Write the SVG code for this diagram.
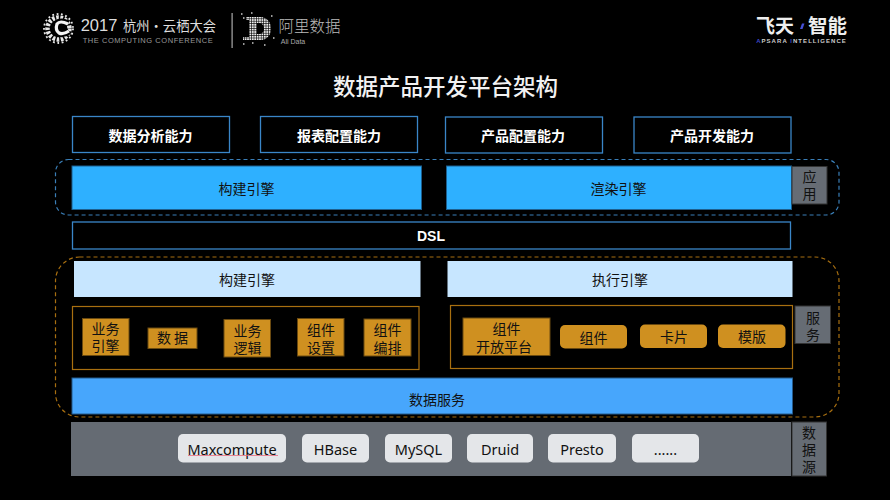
<svg xmlns="http://www.w3.org/2000/svg" width="890" height="500" viewBox="0 0 890 500">
<defs><pattern id="mesh" width="2.400" height="2.400" patternUnits="userSpaceOnUse"><rect width="1.800" height="1.800" fill="#eee"/></pattern></defs>
<style>
text{font-family:"Liberation Sans","Noto Sans CJK SC",sans-serif;text-anchor:middle}
.cap{fill:#000;stroke:#3a86c8;stroke-width:1.300}
.capt{font-size:14px;font-weight:700;fill:#fff}
.blue{fill:#2eb0ff;stroke:#1d5f8e;stroke-width:1}
.light{fill:#c7e6ff}
.t{font-family:"Noto Sans CJK SC","Liberation Sans",sans-serif;font-size:14px;fill:#111}
.or{fill:#cf9020;stroke:#6b4a10;stroke-width:1}
.oline{fill:none;stroke:#a86f10;stroke-width:1.200}
.side{fill:#666c74;stroke:#333;stroke-width:1}
.chip{fill:#e4e6e9}
.ch{font-family:"Noto Sans","Noto Sans CJK SC",sans-serif;font-size:14.500px;fill:#111}
.cn{font-family:"Noto Sans CJK SC",sans-serif}
</style>
<rect width="890" height="500" fill="#000"/>
<g id="logo-conference">
<circle cx="58.500" cy="28.500" r="11" fill="none" stroke="#e8e8e8" stroke-width="4.500" stroke-dasharray="2.600 1.500"/>
<circle cx="58.500" cy="28.500" r="14.500" fill="none" stroke="#e8e8e8" stroke-width="1.800" stroke-dasharray="1.800 2.600"/>
<path d="M68 24Q60 20 57 24Q55 30 59 33Q63 35 69 31" fill="none" stroke="#000" stroke-width="7"/>
<path d="M68 24Q60 20 57 24Q55 30 59 33Q63 35 69 31" fill="none" stroke="#f4f4f4" stroke-width="3.200"/>
<text x="99" y="31" style="font-size:16.500px;fill:#ddd;font-family:'Liberation Sans'">2017</text>
<text x="169.500" y="30.500" class="cn" style="font-size:13.300px;fill:#ddd">杭州·云栖大会</text>
<text x="148" y="43" style="font-size:7.500px;fill:#999;letter-spacing:.55px">THE COMPUTING CONFERENCE</text>
<rect x="231.500" y="13" width="1.200" height="35" fill="#aaa"/>
</g>
<g id="logo-ali">
<path fill-rule="evenodd" fill="url(#mesh)" d="M246 17H262Q271 19 271 29Q271 38 262 40H243V37H249V20H246ZM257 23V34H260Q264 33 264 29Q264 24 260 23Z"/>
<path d="M241 14h1.500M251 13h1.500M271 16h1.500M243 44h1.500M252 43h1.500M264 45h1.500M273 38h1.500M243 18h1.500" stroke="#ccc" stroke-width="1.300" fill="none"/>
<text x="309.500" y="32" class="cn" style="font-size:15.500px;fill:#bbb;font-weight:300">阿里数据</text>
<text x="293" y="44" style="font-size:7px;fill:#aaa">Ali Data</text>
</g>
<g id="logo-apsara">
<text x="775" y="33" class="cn" style="font-size:19px;fill:#eee;font-weight:700">飞天</text>
<path d="M802 23.500L804.500 23.500L802.500 29L800 29Z" fill="#4450d8"/>
<text x="827.500" y="33" class="cn" style="font-size:19.500px;fill:#eee;font-weight:700">智能</text>
<text x="801.500" y="43" style="font-size:6px;font-weight:700;fill:#ccc;letter-spacing:1.050px"><tspan fill="#3d48c8">A</tspan>PSARA <tspan fill="#3d48c8">I</tspan>NTELLIGENCE</text>
</g>
<text id="title" x="445.500" y="95" class="cn" style="font-size:22.500px;font-weight:500;fill:#f2f2f2">数据产品开发平台架构</text>
<g id="connectors">
<rect x="55.500" y="159.500" width="783.500" height="55.500" rx="13" fill="none" stroke="#3a7fb8" stroke-width="1.200" stroke-dasharray="4 3"/>
<rect x="55.500" y="257" width="783.500" height="160" rx="24" fill="none" stroke="#a86f10" stroke-width="1.200" stroke-dasharray="4 3"/>
</g>
<g id="cap1"><rect class="cap" x="72.500" y="116.500" width="157" height="36"/><text class="capt cn" x="150.500" y="141">数据分析能力</text></g>
<g id="cap2"><rect class="cap" x="260.500" y="116.500" width="157" height="36"/><text class="capt cn" x="339" y="141">报表配置能力</text></g>
<g id="cap3"><rect class="cap" x="445.500" y="117" width="157" height="36"/><text class="capt cn" x="523" y="141">产品配置能力</text></g>
<g id="cap4"><rect class="cap" x="634" y="117" width="157" height="36"/><text class="capt cn" x="712" y="141">产品开发能力</text></g>
<g id="build-top"><rect class="blue" x="72" y="166" width="349.500" height="43.500"/><text class="t" x="246.500" y="194">构建引擎</text></g>
<g id="render"><rect class="blue" x="446.500" y="166" width="345" height="43.500"/><text class="t" x="618.500" y="194">渲染引擎</text></g>
<g id="app"><rect class="side" x="792" y="166.500" width="35" height="37.500"/><text class="t" x="809.500" y="182">应</text><text class="t" x="809.500" y="199">用</text></g>
<g id="dsl"><rect x="72.500" y="222" width="718" height="27" fill="#000" stroke="#3a86c8" stroke-width="1.300"/><text x="431" y="241" style="font-size:14px;font-weight:700;fill:#fff">DSL</text></g>
<g id="build"><rect class="light" x="74" y="261" width="346.500" height="36"/><text class="t" x="247" y="285">构建引擎</text></g>
<g id="exec"><rect class="light" x="447.500" y="261" width="345" height="36"/><text class="t" x="620" y="285">执行引擎</text></g>
<g id="left-group"><rect class="oline" x="72.500" y="306.500" width="346.500" height="63"/></g>
<g id="right-group"><rect class="oline" x="450.500" y="305.500" width="342" height="63"/></g>
<g id="n1"><rect class="or" x="82.500" y="318.500" width="46.500" height="37"/><text class="t" x="105.500" y="334">业务</text><text class="t" x="105.500" y="351">引擎</text></g>
<g id="n2"><rect class="or" x="148" y="328" width="49" height="20.500"/><text class="t" x="172.500" y="343">数 据</text></g>
<g id="n3"><rect class="or" x="224" y="319.500" width="46.500" height="37.500"/><text class="t" x="247.500" y="336">业务</text><text class="t" x="247.500" y="353">逻辑</text></g>
<g id="n4"><rect class="or" x="297.500" y="318.500" width="46.500" height="37.500"/><text class="t" x="321" y="335">组件</text><text class="t" x="321" y="353">设置</text></g>
<g id="n5"><rect class="or" x="364" y="319" width="47" height="37"/><text class="t" x="387.500" y="335">组件</text><text class="t" x="387.500" y="353">编排</text></g>
<g id="n6"><rect class="or" x="463" y="318" width="87" height="37.500"/><text class="t" x="506.500" y="334">组件</text><text class="t" x="504" y="352">开放平台</text></g>
<g id="n7"><rect x="560" y="325" width="67" height="23.500" rx="5" fill="#cf9020"/><text class="t" x="593.500" y="343">组件</text></g>
<g id="n8"><rect x="640" y="324.500" width="67" height="23.500" rx="5" fill="#cf9020"/><text class="t" x="674" y="342">卡片</text></g>
<g id="n9"><rect x="718" y="324.500" width="67.500" height="23.500" rx="5" fill="#cf9020"/><text class="t" x="752" y="342">模版</text></g>
<g id="svc"><rect class="side" x="795" y="306" width="35.500" height="37.500"/><text class="t" x="813" y="323">服</text><text class="t" x="813" y="340">务</text></g>
<g id="data-svc"><rect x="72" y="378" width="720.500" height="36" fill="#47a6fc" stroke="#245a8c"/><text class="t" x="437" y="405">数据服务</text></g>
<g id="source"><rect x="71" y="422" width="720" height="54" fill="#656b73"/></g>
<g id="src-label"><rect class="side" x="792" y="422" width="34.500" height="54"/><text class="t" x="809" y="438">数</text><text class="t" x="809" y="455">据</text><text class="t" x="809" y="472">源</text></g>
<g id="c1"><rect class="chip" x="178" y="434" width="108" height="28.500" rx="5"/><text class="ch" x="232" y="455">Maxcompute</text><path d="M188 455.500H278" stroke="#e86a7c" stroke-width=".8" fill="none"/></g>
<g id="c2"><rect class="chip" x="302" y="434" width="67" height="28.500" rx="5"/><text class="ch" x="335.500" y="455">HBase</text></g>
<g id="c3"><rect class="chip" x="385" y="434" width="67" height="28.500" rx="5"/><text class="ch" x="418.500" y="455">MySQL</text></g>
<g id="c4"><rect class="chip" x="467" y="434" width="66" height="28.500" rx="5"/><text class="ch" x="500" y="455">Druid</text></g>
<g id="c5"><rect class="chip" x="548" y="434" width="68" height="28.500" rx="5"/><text class="ch" x="582" y="455">Presto</text></g>
<g id="c6"><rect class="chip" x="632" y="434" width="67" height="28.500" rx="5"/><text class="ch" x="665.500" y="455">......</text></g>
</svg>
